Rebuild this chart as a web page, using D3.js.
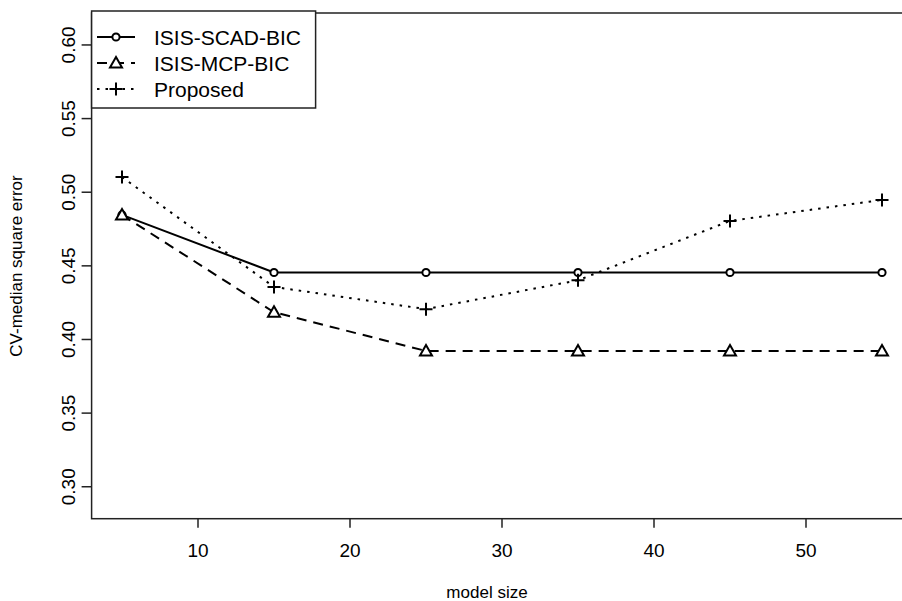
<!DOCTYPE html>
<html>
<head>
<meta charset="utf-8">
<script src="https://cdn.jsdelivr.net/npm/d3@7"></script>
<style>
body { margin: 0; background: #fff; }
svg { display: block; font-family: "Liberation Sans", Arial, sans-serif; }
</style>
</head>
<body>
<svg width="902" height="601"></svg>
<script>
var width = 902;
var height = 601;

// data
var modelSize = [5, 15, 25, 35, 45, 55];
var scadBic = [0.4846, 0.4455, 0.4455, 0.4455, 0.4455, 0.4455];
var mcpBic = [0.4846, 0.4185, 0.3922, 0.3922, 0.3922, 0.3922];
var proposed = [0.5103, 0.4357, 0.4206, 0.4402, 0.4805, 0.4948];
var xTicks = [10, 20, 30, 40, 50];
var yTicks = [0.30, 0.35, 0.40, 0.45, 0.50, 0.55, 0.60];
var seriesNames = ["ISIS-SCAD-BIC", "ISIS-MCP-BIC", "Proposed"];

var svg = d3.select("svg");

var x = d3.scaleLinear().domain([3, 57]).range([91.6, 912.4]);
var y = d3.scaleLinear().domain([0.2783, 0.6217]).range([518.7, 13]);

var series = [
  {name: seriesNames[0], values: scadBic, dash: null, pch: "circle"},
  {name: seriesNames[1], values: mcpBic, dash: "10,7", pch: "triangle"},
  {name: seriesNames[2], values: proposed, dash: "2.5,6", pch: "plus"}
];

// plot box
svg.append("rect")
    .attr("x", x.range()[0]).attr("y", y.range()[1])
    .attr("width", x.range()[1] - x.range()[0])
    .attr("height", y.range()[0] - y.range()[1])
    .attr("fill", "none").attr("stroke", "#222").attr("stroke-width", 1.5);

// x axis
var xAxis = svg.append("g").attr("transform", "translate(0," + y.range()[0] + ")");
xAxis.selectAll("line").data(xTicks).enter().append("line")
    .attr("x1", d => x(d)).attr("x2", d => x(d))
    .attr("y1", 0).attr("y2", 9)
    .attr("stroke", "#222").attr("stroke-width", 1.5);
xAxis.selectAll("text").data(xTicks).enter().append("text")
    .attr("x", d => x(d)).attr("y", 38)
    .attr("text-anchor", "middle")
    .attr("font-size", 19)
    .text(d => d);

// y axis
var yAxis = svg.append("g").attr("transform", "translate(" + x.range()[0] + ",0)");
yAxis.selectAll("line").data(yTicks).enter().append("line")
    .attr("x1", -10).attr("x2", 0)
    .attr("y1", d => y(d)).attr("y2", d => y(d))
    .attr("stroke", "#222").attr("stroke-width", 1.5);
yAxis.selectAll("text").data(yTicks).enter().append("text")
    .attr("transform", d => "translate(-17," + y(d) + ") rotate(-90)")
    .attr("text-anchor", "middle")
    .attr("font-size", 19)
    .text(d => d.toFixed(2));

// axis titles
svg.append("text")
    .attr("x", 487).attr("y", 598)
    .attr("text-anchor", "middle")
    .attr("font-size", 17)
    .text("model size");
svg.append("text")
    .attr("transform", "translate(22,266) rotate(-90)")
    .attr("text-anchor", "middle")
    .attr("font-size", 17)
    .text("CV-median square error");

function drawSymbol(g, pch, cx, cy) {
  if (pch === "circle") {
    g.append("circle").attr("cx", cx).attr("cy", cy).attr("r", 3.6)
      .attr("fill", "#fff").attr("stroke", "#000").attr("stroke-width", 2);
  } else if (pch === "triangle") {
    g.append("path")
      .attr("d", "M" + cx + "," + (cy - 6) + "L" + (cx + 6) + "," + (cy + 4.5) + "L" + (cx - 6) + "," + (cy + 4.5) + "Z")
      .attr("fill", "#fff").attr("stroke", "#000").attr("stroke-width", 2);
  } else {
    g.append("path")
      .attr("d", "M" + (cx - 6.5) + "," + cy + "H" + (cx + 6.5) + "M" + cx + "," + (cy - 6.5) + "V" + (cy + 6.5))
      .attr("stroke", "#000").attr("stroke-width", 2);
  }
}

var line = d3.line().x(d => x(d[0])).y(d => y(d[1]));

series.forEach(function(s) {
  var g = svg.append("g");
  var pts = modelSize.map((m, i) => [m, s.values[i]]);
  g.append("path")
    .attr("d", line(pts))
    .attr("fill", "none").attr("stroke", "#000").attr("stroke-width", 2)
    .attr("stroke-dasharray", s.dash);
  pts.forEach(p => drawSymbol(g, s.pch, x(p[0]), y(p[1])));
});

// legend
var legend = svg.append("g");
legend.append("rect")
    .attr("x", 91.6).attr("y", 11)
    .attr("width", 224).attr("height", 97)
    .attr("fill", "#fff").attr("stroke", "#222").attr("stroke-width", 1.5);
series.forEach(function(s, i) {
  var ly = 37 + i * 26;
  legend.append("line")
    .attr("x1", 97).attr("x2", 135).attr("y1", ly).attr("y2", ly)
    .attr("stroke", "#000").attr("stroke-width", 2)
    .attr("stroke-dasharray", s.dash);
  drawSymbol(legend, s.pch, 116, ly);
  legend.append("text")
    .attr("x", 154).attr("y", ly + 7.5)
    .attr("font-size", 21)
    .text(s.name);
});
</script>
</body>
</html>
